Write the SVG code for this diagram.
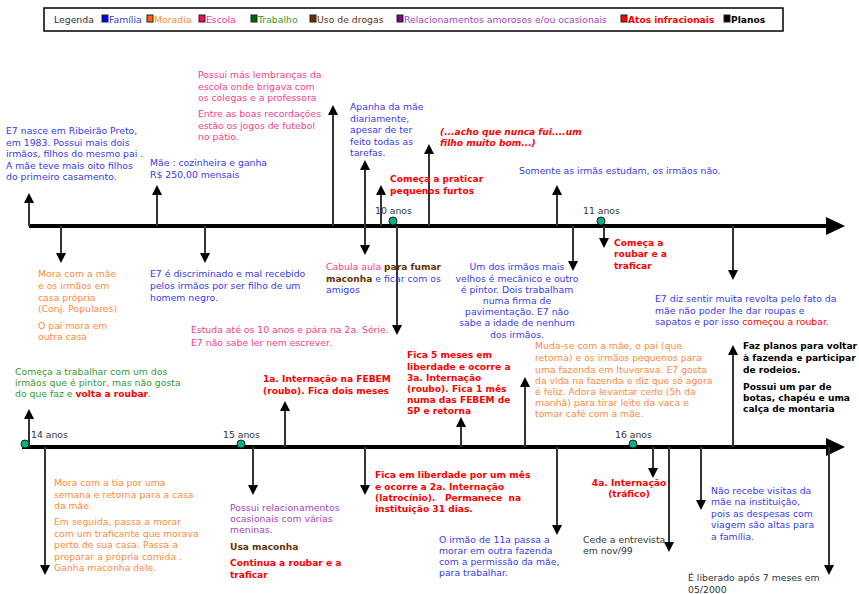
<svg xmlns="http://www.w3.org/2000/svg" width="859" height="594" viewBox="0 0 859 594">
<style>
text{font-family:"DejaVu Sans","Verdana",sans-serif;font-size:9.3px}
.f{fill:#3838f0}.m{fill:#ff8a3d}.e{fill:#f7408a}.t{fill:#339933}.d{fill:#663300;font-weight:bold;font-size:9.1px}
.r{fill:#a63fc0}.a{fill:#ff0000;font-weight:bold;font-size:9.1px}.p{fill:#000;font-weight:bold;font-size:9.1px}.g{fill:#333}
.ai{fill:#ff0000;font-weight:bold;font-style:italic;font-size:9.1px}
.conn{stroke:#333;stroke-width:2;fill:none}
.axis{stroke:#000;stroke-width:4}
.dot{fill:#00b386;stroke:#222;stroke-width:1}
.sq{stroke:#222;stroke-width:1}
</style>
<defs>
<marker id="ah" viewBox="0 0 10 10" refX="0" refY="5" markerWidth="10" markerHeight="10" markerUnits="userSpaceOnUse" orient="auto">
<path d="M0,0 L10,5 L0,10 z" fill="#000"/>
</marker>
</defs>
<rect width="859" height="594" fill="#fff"/>

<g id="legend">
<rect x="44" y="8" width="739" height="23" fill="#fff" stroke="#000" stroke-width="1.5"/>
<text x="54" y="23" class="g">Legenda</text>
<rect class="sq" x="102" y="15" width="6" height="7" fill="#0000ff"/><text x="109" y="23" class="f">Família</text>
<rect class="sq" x="147" y="15" width="6" height="7" fill="#ff6600"/><text x="154" y="23" class="m">Moradia</text>
<rect class="sq" x="199" y="15" width="6" height="7" fill="#ff0066"/><text x="206" y="23" class="e">Escola</text>
<rect class="sq" x="251" y="15" width="6" height="7" fill="#006600"/><text x="258" y="23" class="t">Trabalho</text>
<rect class="sq" x="310" y="15" width="6" height="7" fill="#663300"/><text x="317" y="23" fill="#663300">Uso de drogas</text>
<rect class="sq" x="397" y="15" width="6" height="7" fill="#800080"/><text x="404" y="23" class="r">Relacionamentos amorosos e/ou ocasionais</text>
<rect class="sq" x="621" y="15" width="6" height="7" fill="#ff0000"/><text x="628" y="23" class="a">Atos infracionais</text>
<rect class="sq" x="724" y="15" width="6" height="7" fill="#000"/><text x="731" y="23" class="p">Planos</text>
</g>

<g id="connectors">
<line class="axis" x1="29" y1="226" x2="828" y2="226"/>
<polygon points="826,217 845,226 826,235" fill="#000"/>
<line class="axis" x1="22" y1="447" x2="828" y2="447"/>
<polygon points="826,438 845,447 826,456" fill="#000"/>
<line class="conn" x1="29" y1="226" x2="29" y2="203" marker-end="url(#ah)"/>
<line class="conn" x1="157" y1="226" x2="157" y2="195" marker-end="url(#ah)"/>
<line class="conn" x1="333" y1="226" x2="333" y2="115" marker-end="url(#ah)"/>
<line class="conn" x1="365" y1="226" x2="365" y2="170" marker-end="url(#ah)"/>
<line class="conn" x1="381" y1="226" x2="381" y2="195" marker-end="url(#ah)"/>
<line class="conn" x1="429" y1="226" x2="429" y2="154" marker-end="url(#ah)"/>
<line class="conn" x1="557" y1="226" x2="557" y2="195" marker-end="url(#ah)"/>
<line class="conn" x1="61" y1="226" x2="61" y2="253" marker-end="url(#ah)"/>
<line class="conn" x1="205" y1="226" x2="205" y2="253" marker-end="url(#ah)"/>
<line class="conn" x1="365" y1="226" x2="365" y2="245" marker-end="url(#ah)"/>
<line class="conn" x1="397" y1="226" x2="397" y2="325" marker-end="url(#ah)"/>
<line class="conn" x1="573" y1="226" x2="573" y2="261" marker-end="url(#ah)"/>
<line class="conn" x1="604" y1="226" x2="604" y2="238" marker-end="url(#ah)"/>
<line class="conn" x1="733" y1="226" x2="733" y2="270" marker-end="url(#ah)"/>
<line class="conn" x1="29" y1="447" x2="29" y2="419" marker-end="url(#ah)"/>
<line class="conn" x1="285" y1="447" x2="285" y2="411" marker-end="url(#ah)"/>
<line class="conn" x1="461" y1="447" x2="461" y2="427" marker-end="url(#ah)"/>
<line class="conn" x1="525" y1="447" x2="525" y2="387" marker-end="url(#ah)"/>
<line class="conn" x1="733" y1="447" x2="733" y2="355" marker-end="url(#ah)"/>
<line class="conn" x1="45" y1="447" x2="45" y2="565" marker-end="url(#ah)"/>
<line class="conn" x1="253" y1="447" x2="253" y2="485" marker-end="url(#ah)"/>
<line class="conn" x1="365" y1="447" x2="365" y2="485" marker-end="url(#ah)"/>
<line class="conn" x1="557" y1="447" x2="557" y2="525" marker-end="url(#ah)"/>
<line class="conn" x1="653" y1="447" x2="653" y2="468" marker-end="url(#ah)"/>
<line class="conn" x1="669" y1="447" x2="669" y2="542" marker-end="url(#ah)"/>
<line class="conn" x1="701" y1="447" x2="701" y2="500" marker-end="url(#ah)"/>
<line class="conn" x1="829" y1="447" x2="829" y2="565" marker-end="url(#ah)"/>
</g>

<g id="age10"><circle class="dot" cx="393" cy="221" r="4"/><text x="375" y="214" class="g">10 anos</text></g>
<g id="age11"><circle class="dot" cx="601" cy="221" r="4"/><text x="583" y="214" class="g">11 anos</text></g>
<g id="age14"><circle class="dot" cx="25" cy="444" r="4"/><text x="31" y="438" class="g">14 anos</text></g>
<g id="age15"><circle class="dot" cx="241" cy="444" r="4"/><text x="223" y="438" class="g">15 anos</text></g>
<g id="age16"><circle class="dot" cx="633" cy="444" r="4"/><text x="615" y="438" class="g">16 anos</text></g>

<g id="n-nasce"><text class="f"><tspan x="6" y="134">E7 nasce em Ribeirão Preto,</tspan><tspan x="6" y="146">em 1983. Possui mais dois</tspan><tspan x="6" y="157">irmãos, filhos do mesmo pai .</tspan><tspan x="6" y="169">A mãe teve mais oito filhos</tspan><tspan x="6" y="180">do primeiro casamento.</tspan></text></g>

<g id="n-mae"><text class="f"><tspan x="150" y="166">Mãe : cozinheira e ganha</tspan><tspan x="150" y="178">R$ 250,00 mensais</tspan></text></g>

<g id="n-escola"><text class="e"><tspan x="198" y="78">Possui más lembranças da</tspan><tspan x="198" y="90">escola onde brigava com</tspan><tspan x="198" y="101">os colegas e a professora</tspan><tspan x="198" y="117">Entre as boas recordações</tspan><tspan x="198" y="129">estão os jogos de futebol</tspan><tspan x="198" y="140">no pátio.</tspan></text></g>

<g id="n-apanha"><text class="f"><tspan x="350" y="110">Apanha da mãe</tspan><tspan x="350" y="122">diariamente,</tspan><tspan x="350" y="133">apesar de ter</tspan><tspan x="350" y="145">feito todas as</tspan><tspan x="350" y="156">tarefas.</tspan></text></g>

<g id="n-acho"><text class="ai"><tspan x="440" y="135">(...acho que nunca fui....um</tspan><tspan x="440" y="146">filho muito bom...)</tspan></text></g>

<g id="n-furtos"><text class="a"><tspan x="390" y="182">Começa a praticar</tspan><tspan x="390" y="194">pequenos furtos</tspan></text></g>

<g id="n-irmas"><text x="519" y="174" class="f">Somente as irmãs estudam, os irmãos não.</text></g>

<g id="n-mora"><text class="m"><tspan x="38" y="277">Mora com a mãe</tspan><tspan x="38" y="289">e os irmãos em</tspan><tspan x="38" y="301">casa própria</tspan><tspan x="38" y="312">(Conj. Populares)</tspan><tspan x="38" y="329">O pai mora em</tspan><tspan x="38" y="340">outra casa</tspan></text></g>

<g id="n-discriminado"><text class="f"><tspan x="150" y="277">E7 é discriminado e mal recebido</tspan><tspan x="150" y="289">pelos irmãos por ser filho de um</tspan><tspan x="150" y="301">homem negro.</tspan></text></g>

<g id="n-cabula"><text><tspan x="326" y="270" class="e">Cabula aula </tspan><tspan class="d">para fumar</tspan><tspan x="326" y="282" class="d">maconha</tspan><tspan class="f"> e ficar com os</tspan><tspan x="326" y="293" class="f">amigos</tspan></text></g>

<g id="n-estuda"><text class="e"><tspan x="191" y="333">Estuda até os 10 anos e pára na 2a. Série.</tspan><tspan x="191" y="346">E7 não sabe ler nem escrever.</tspan></text></g>

<g id="n-irmaos"><text class="f" text-anchor="middle"><tspan x="517" y="270">Um dos irmãos mais</tspan><tspan x="517" y="282">velhos é mecânico e outro</tspan><tspan x="517" y="293">é pintor. Dois trabalham</tspan><tspan x="517" y="304">numa firma de</tspan><tspan x="517" y="315">pavimentação. E7 não</tspan><tspan x="517" y="326">sabe a idade de nenhum</tspan><tspan x="517" y="338">dos irmãos.</tspan></text></g>

<g id="n-roubar"><text class="a"><tspan x="614" y="246">Começa a</tspan><tspan x="614" y="257">roubar e a</tspan><tspan x="614" y="269">traficar</tspan></text></g>

<g id="n-revolta"><text class="f"><tspan x="655" y="302">E7 diz sentir muita revolta pelo fato da</tspan><tspan x="655" y="314">mãe não poder lhe dar roupas e</tspan><tspan x="655" y="325">sapatos e por isso </tspan><tspan fill="#ff0000">começou a roubar.</tspan></text></g>

<g id="n-trabalhar"><text class="t"><tspan x="15" y="375">Começa a trabalhar com um dos</tspan><tspan x="15" y="386">irmãos que é pintor, mas não gosta</tspan><tspan x="15" y="397">do que faz e </tspan><tspan class="a">volta a roubar</tspan><tspan>.</tspan></text></g>

<g id="n-int1"><text class="a"><tspan x="263" y="382">1a. Internação na FEBEM</tspan><tspan x="263" y="394">(roubo). Fica dois meses</tspan></text></g>

<g id="n-int3"><text class="a"><tspan x="407" y="358">Fica 5 meses em</tspan><tspan x="407" y="370">liberdade e ocorre a</tspan><tspan x="407" y="381">3a. Internação</tspan><tspan x="407" y="392">(roubo). Fica 1 mês</tspan><tspan x="407" y="403">numa das FEBEM de</tspan><tspan x="407" y="414">SP e retorna</tspan></text></g>

<g id="n-muda"><text class="m"><tspan x="535" y="349">Muda-se com a mãe, o pai (que</tspan><tspan x="535" y="361">retorna) e os irmãos pequenos para</tspan><tspan x="535" y="373">uma fazenda em Ituverava. E7 gosta</tspan><tspan x="535" y="384">da vida na fazenda e diz que só agora</tspan><tspan x="535" y="395">é feliz. Adora levantar cedo (5h da</tspan><tspan x="535" y="406">manhã) para tirar leite da vaca e</tspan><tspan x="535" y="417">tomar café com a mãe.</tspan></text></g>

<g id="n-planos"><text class="p"><tspan x="743" y="349">Faz planos para voltar</tspan><tspan x="743" y="361">à fazenda e participar</tspan><tspan x="743" y="373">de rodeios.</tspan><tspan x="743" y="390">Possui um par de</tspan><tspan x="743" y="401">botas, chapéu e uma</tspan><tspan x="743" y="412">calça de montaria</tspan></text></g>

<g id="n-tia"><text class="m"><tspan x="54" y="486">Mora com a tia por uma</tspan><tspan x="54" y="498">semana e retorna para a casa</tspan><tspan x="54" y="509">da mãe.</tspan><tspan x="54" y="525">Em seguida, passa a morar</tspan><tspan x="54" y="537">com um traficante que morava</tspan><tspan x="54" y="548">perto de sua casa. Passa a</tspan><tspan x="54" y="560">preparar a própria comida .</tspan><tspan x="54" y="571">Ganha maconha dele.</tspan></text></g>

<g id="n-relac"><text class="r"><tspan x="230" y="511">Possui relacionamentos</tspan><tspan x="230" y="522">ocasionais com várias</tspan><tspan x="230" y="533">meninas.</tspan></text><text x="230" y="550" class="d">Usa maconha</text><text class="a"><tspan x="230" y="566">Continua a roubar e a</tspan><tspan x="230" y="578">traficar</tspan></text></g>

<g id="n-int2"><text class="a" xml:space="preserve"><tspan x="375" y="478">Fica em liberdade por um mês</tspan><tspan x="375" y="490">e ocorre a 2a. Internação</tspan><tspan x="375" y="501">(latrocínio).   Permanece  na</tspan><tspan x="375" y="512">instituição 31 dias.</tspan></text></g>

<g id="n-irmao11"><text class="f"><tspan x="439" y="543">O irmão de 11a passa a</tspan><tspan x="439" y="554">morar em outra fazenda</tspan><tspan x="439" y="565">com a permissão da mãe,</tspan><tspan x="439" y="576">para trabalhar.</tspan></text></g>

<g id="n-int4"><text class="a" text-anchor="middle"><tspan x="629" y="486">4a. Internação</tspan><tspan x="629" y="497">(tráfico)</tspan></text></g>

<g id="n-cede"><text class="g"><tspan x="583" y="543">Cede a entrevista</tspan><tspan x="583" y="554">em nov/99</tspan></text></g>

<g id="n-visitas"><text class="f"><tspan x="711" y="494">Não recebe visitas da</tspan><tspan x="711" y="505">mãe na instituição,</tspan><tspan x="711" y="517">pois as despesas com</tspan><tspan x="711" y="528">viagem são altas para</tspan><tspan x="711" y="540">a família.</tspan></text></g>

<g id="n-liberado"><text class="g"><tspan x="688" y="581">É liberado após 7 meses em</tspan><tspan x="688" y="593">05/2000</tspan></text></g>
</svg>
